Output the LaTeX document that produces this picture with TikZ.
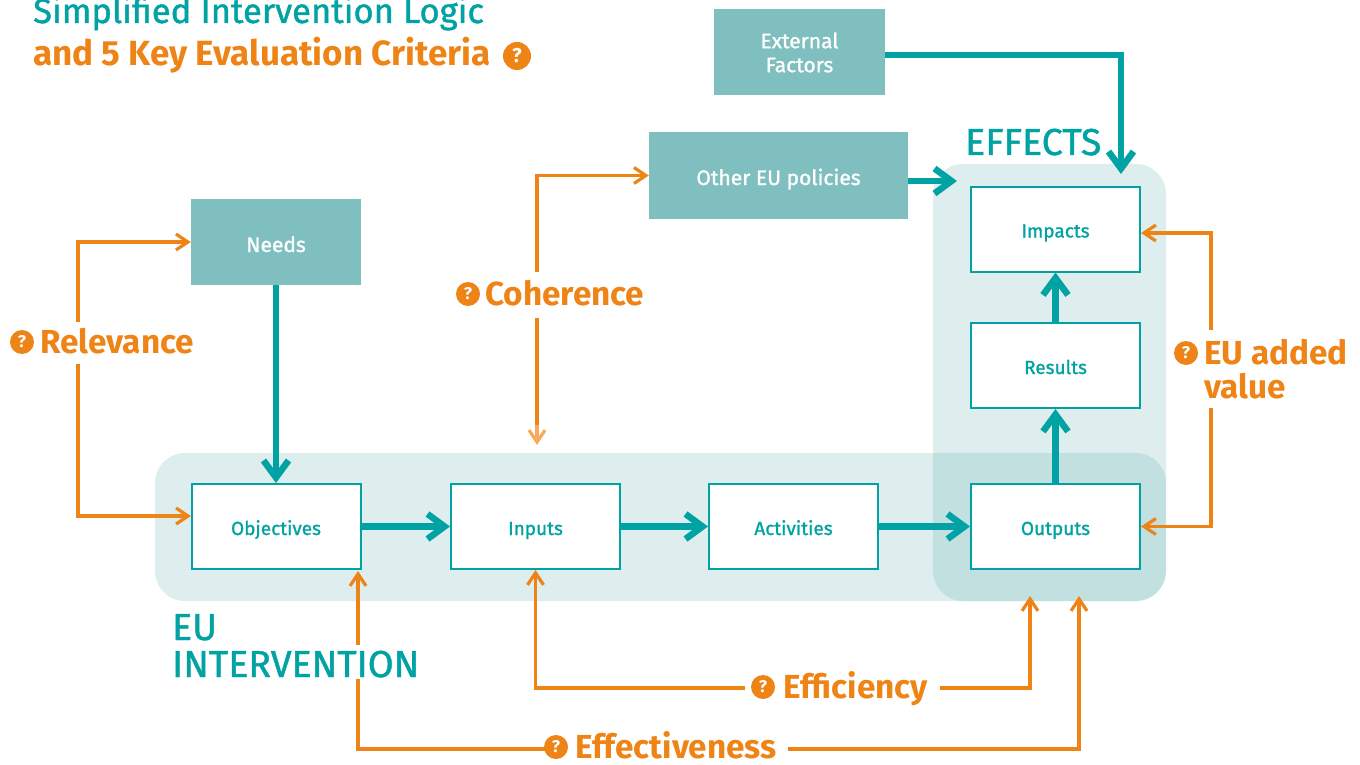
\documentclass[tikz,border=0pt]{standalone}
\usepackage{fontspec}
\setmainfont{Fira Sans}
\newfontfamily\firamed[FakeBold=1.2]{Fira Sans}
\usetikzlibrary{arrows.meta}
\definecolor{tealc}{RGB}{0,162,163}
\definecolor{boxc}{RGB}{127,191,191}
\definecolor{orc}{RGB}{238,131,22}
\definecolor{orl}{RGB}{246,170,90}
\definecolor{tintc}{RGB}{98,174,174}
\pgfdeclarelayer{back}
\pgfsetlayers{back,main}
\begin{document}
\begin{tikzpicture}[x=1pt,y=-1pt,
  fillbox/.style={fill=boxc,text=white,minimum width=171pt,minimum height=86pt,inner sep=0pt,align=center,font=\firamed\fontsize{21}{24}\selectfont},
  stagebox/.style={fill=white,draw=tealc,line width=2pt,minimum width=169pt,minimum height=85pt,inner sep=0pt,text=tealc,text height=18pt,text depth=1pt,font=\firamed\fontsize{19}{23}\selectfont},
  tarr/.style={draw=tealc,line width=6.5pt,-{Straight Barb[length=17pt,width=25pt]}},
  oarr/.style={draw=orc,line width=3.2pt,-{Straight Barb[length=12pt,width=16pt]}},
  oline/.style={draw=orc,line width=3.2pt},
  qmark/.style={circle,fill=orc,text=white,inner sep=0pt,minimum size=24pt,font=\bfseries\fontsize{17}{17}\selectfont},
  crit/.style={anchor=base west,inner sep=0pt,text=orc,font=\bfseries\fontsize{33.3}{36}\selectfont},
  tlab/.style={anchor=base west,inner sep=0pt,text=tealc,font=\firamed\fontsize{37.5}{40}\selectfont},
  region/.style={fill=tintc,fill opacity=0.21,rounded corners=30pt}
]
\useasboundingbox (0,0) rectangle (1360,765);

% title
\node[anchor=base west,inner sep=0pt,text=tealc,font=\firamed\fontsize{34.6}{38}\selectfont] (t1) at (33,23) {Simplified Intervention Logic};
\node[anchor=base west,inner sep=0pt,text=orc,font=\bfseries\fontsize{35}{38}\selectfont] (t2) at (33,66) {and 5 Key Evaluation Criteria};
\node[qmark,minimum size=28pt,font=\bfseries\fontsize{20}{20}\selectfont] (q0) at (517,56) {?};

% regions
\begin{pgfonlayer}{back}
\fill[region] (155,453) rectangle (1166,601);
\fill[region] (933,164) rectangle (1166,601);
\end{pgfonlayer}

% filled boxes
\node[fillbox] (ext) at (799.5,52.5) {External\\Factors};
\node[fillbox,minimum width=259pt,text height=19pt,text depth=0pt] (other) at (778.5,175.5) {Other EU policies};
\node[fillbox,minimum width=170pt,text height=20pt,text depth=0pt] (needs) at (276,242) {Needs};

% stage boxes
\node[stagebox] (obj) at (276,526.5) {Objectives};
\node[stagebox] (inp) at (535.5,526.5) {Inputs};
\node[stagebox] (act) at (793.5,526.5) {Activities};
\node[stagebox] (out) at (1055.5,526.5) {Outputs};
\node[stagebox] (res) at (1055.5,365.5) {Results};
\node[stagebox] (imp) at (1055.5,229) {Impacts};

% region labels
\node[tlab] (efflab) at (965,155) {EFFECTS};
\node[tlab] (eulab) at (172,640) {EU};
\node[tlab] (intlab) at (172,677) {INTERVENTION};

% criteria labels
\node[qmark] (q1) at (22,342) {?};
\node[crit] (relv) at (40,353) {Relevance};
\node[qmark] (q2) at (468,294) {?};
\node[crit] (coh) at (485,305) {Coherence};
\node[qmark] (q3) at (1186,353) {?};
\node[crit] (eua1) at (1204,364) {EU added};
\node[crit] (eua2) at (1204,398) {value};
\node[qmark] (q4) at (763,687) {?};
\node[crit] (effi) at (783,698) {Efficiency};
\node[qmark] (q5) at (556,747) {?};
\node[crit] (efft) at (575,758) {Effectiveness};

% coordinates
\coordinate (effIn) at (957,181);
\coordinate (extBend) at (1121,55);
\coordinate (extIn) at (1121,174);
\coordinate (relTop) at (78,322);
\coordinate (relBot) at (78,364);
\coordinate (objIn) at (191,516);
\coordinate (cohTop) at (537,272);
\coordinate (cohBot) at (537,318);
\coordinate (cohMid) at (537,425);
\coordinate (cohTip) at (537,445);
\coordinate (euaTop) at (1211,330);
\coordinate (euaBot) at (1211,408);
\coordinate (impIn) at (1141,233);
\coordinate (effiL) at (745,688);
\coordinate (effiR) at (940,688);
\coordinate (outIn1) at (1030,596);
\coordinate (efftL) at (545,749);
\coordinate (efftR) at (788,749);
\coordinate (intBelow) at (358,679);
\coordinate (intAbove) at (358,645);
\coordinate (objIn2) at (358,571);
\coordinate (outIn2) at (1079,596);

% teal connectors
\draw[tarr] (needs.south) -- (obj.north);
\draw[tarr] (obj.east) -- (inp.west);
\draw[tarr] (inp.east) -- (act.west);
\draw[tarr] (act.east) -- (out.west);
\draw[tarr] (out.north) -- (res.south);
\draw[tarr] (res.north) -- (imp.south);
\draw[tarr] (other.east |- effIn) -- (effIn);
\draw[tarr] (ext.east |- extBend) -- (extBend) -- (extIn);

% orange connectors
\draw[oarr] (relTop) |- (needs.west);
\draw[oarr] (relBot) |- (objIn);
\draw[oarr] (cohTop) |- (other.west);
\draw[oline] (cohBot) -- (cohMid);
\draw[oarr,draw=orl] (cohMid) -- (cohTip);
\draw[oarr] (euaTop) |- (impIn);
\draw[oarr] (euaBot) |- (out.east);
\draw[oarr] (effiL) -| (inp.south);
\draw[oarr] (effiR) -| (outIn1);
\draw[oline] (efftL) -| (intBelow);
\draw[oarr] (intAbove) -- (objIn2);
\draw[oarr] (efftR) -| (outIn2);
\end{tikzpicture}
\end{document}
